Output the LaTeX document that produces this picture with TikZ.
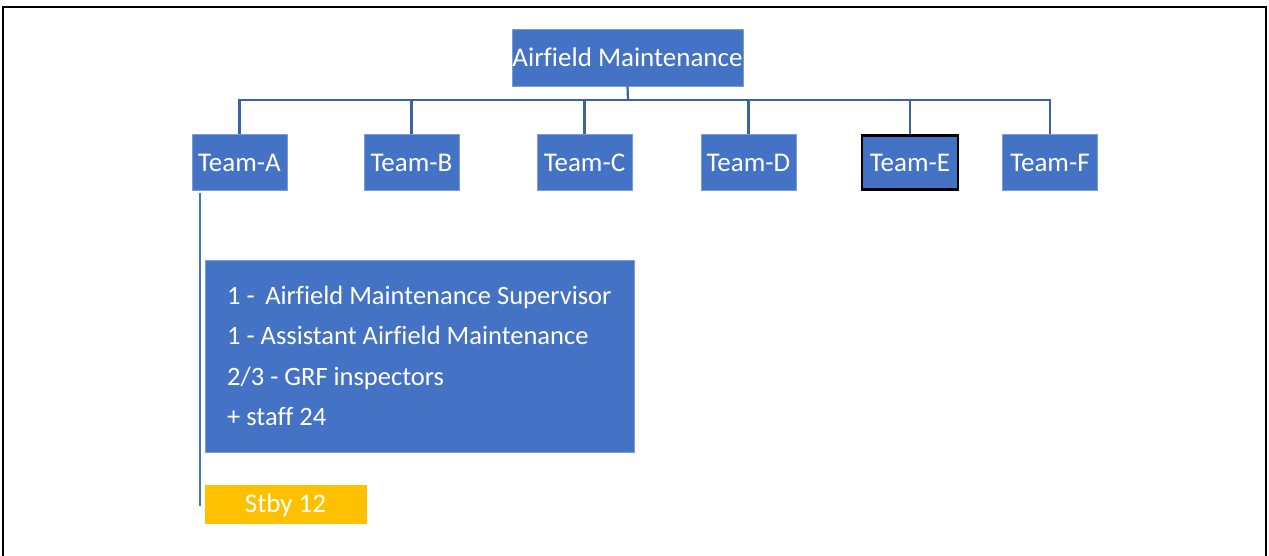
\documentclass[tikz,border=0pt]{standalone}
\usepackage{fontspec}
\setmainfont[Ligatures=NoCommon]{Carlito}
\definecolor{boxblue}{HTML}{4472C4}
\definecolor{lineblue}{HTML}{3A62A8}
\definecolor{stbyorange}{HTML}{FFC000}
\tikzset{
  orgbox/.style={fill=boxblue,draw=boxblue!70!white,line width=0.8pt,text=white,inner sep=0pt,font=\fontsize{27}{32}\selectfont},
  teambox/.style={orgbox,minimum width=95,minimum height=56},
  orgline/.style={lineblue,line width=2.2pt}
}
\begin{document}
\begin{tikzpicture}[x=1pt,y=-1pt]
\useasboundingbox (0,0) rectangle (1269,556);
\draw[black,line width=2pt] (3,556) -- (3,7) -- (1266,7) -- (1266,556);
% head
\node[orgbox,minimum width=231,minimum height=57] (head) at (627.5,57.5) {Airfield Maintenance};
% teams
\node[teambox] (teamA) at (239.5,162.5) {Team-A};
\node[teambox] (teamB) at (411.5,162.5) {Team-B};
\node[teambox] (teamC) at (584.5,162.5) {Team-C};
\node[teambox] (teamD) at (748.5,162.5) {Team-D};
\node[teambox,draw=black,line width=2.6pt,minimum width=96,minimum height=54] (teamE) at (910,162.5) {Team-E};
\node[teambox] (teamF) at (1050,162.5) {Team-F};
% bus
\coordinate (bus) at (628,100);
\draw[orgline] (head.south) -- (bus);
\draw[orgline] (teamA.north) |- (bus) -| (teamF.north);
\foreach \t in {teamB,teamC,teamD,teamE}
  \draw[orgline] (\t.north) -- (\t.north |- bus);
% team A details
\node[orgbox,minimum width=429,minimum height=192] (crewA) at (419.5,356) {};
\node[text=white,inner sep=0pt,anchor=west,align=left,
  font=\fontsize{26.5}{40.5}\selectfont] (crewtext) at (227,356)
  {1 -\hspace{0.4em}Airfield Maintenance Supervisor\\
   1 - Assistant Airfield Maintenance\\
   2/3 - GRF inspectors\\
   + staff 24};
\node[orgbox,fill=stbyorange,draw=stbyorange,minimum width=161,minimum height=38,text depth=1pt] (stbyA) at (285.5,504) {Stby 12};
\coordinate (stemtop) at (200,193);
\coordinate (stembot) at (200,506);
\draw[boxblue,line width=2.2pt] (stemtop) -- (stembot);
\end{tikzpicture}
\end{document}
